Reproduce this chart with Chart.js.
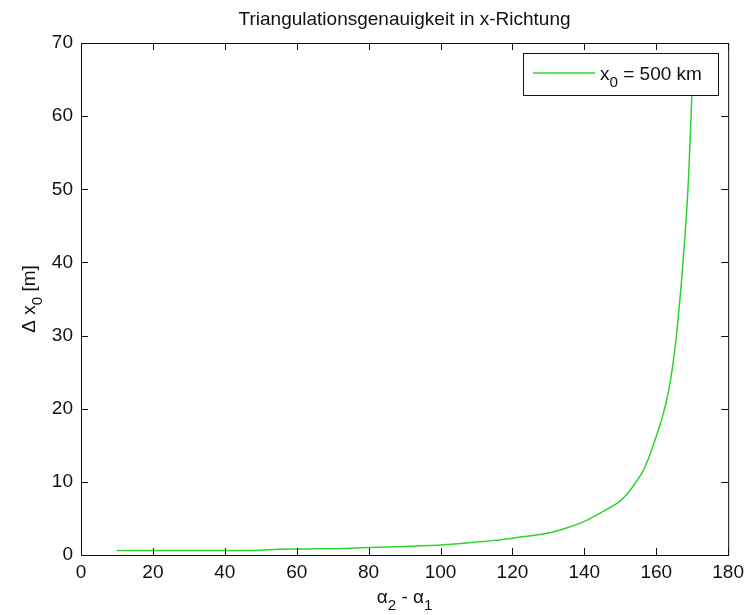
<!DOCTYPE html>
<html lang="de">
<head>
    <meta charset="UTF-8">
    <title>Triangulationsgenauigkeit in x-Richtung</title>
    <style>
        body {
            margin: 0;
            background: #fff;
        }
        .wrap {
            width: 750px;
            height: 615px;
            position: relative;
        }
    </style>
    <script src="https://cdn.jsdelivr.net/npm/chart.js"></script>
</head>
<body>
    <div class="wrap">
        <canvas id="chart"></canvas>
    </div>

    <script>
        // angle difference alpha2 - alpha1 (deg) and error delta x0 (m)
        const angles = [10, 15, 20, 25, 30, 35, 40, 45, 50, 55, 60, 65, 70, 75, 80, 85, 90, 95,
                        100, 105, 110, 115, 120, 125, 130, 135, 140, 145, 150, 152, 154, 156,
                        157, 158, 159, 160, 161, 162, 163, 164, 165, 166, 167, 168, 169, 170];
        const deltas = [0.6, 0.6, 0.6, 0.6, 0.6, 0.6, 0.6, 0.62, 0.65, 0.78, 0.82, 0.84, 0.86, 0.92,
                        1.02, 1.1, 1.17, 1.26, 1.36, 1.55, 1.78, 2.0, 2.3, 2.62, 3.0, 3.7, 4.6, 5.9,
                        7.4, 8.4, 9.7, 11.2, 12.2, 13.4, 14.8, 16.2, 17.7, 19.4, 21.4, 24.0, 27.4,
                        31.8, 37.2, 43.7, 51.7, 64];

        const xTicks = [0, 20, 40, 60, 80, 100, 120, 140, 160, 180];
        const yTicks = [0, 10, 20, 30, 40, 50, 60, 70];

        const titleText = 'Triangulationsgenauigkeit in x-Richtung';
        const legendLabel = [['x', false], ['0', true], [' = 500 km', false]];
        const xLabel = [['\u03b1', false], ['2', true], [' - \u03b1', false], ['1', true]];
        const yLabel = [['\u0394 x', false], ['0', true], [' [m]', false]];

        const FONT = '"Liberation Sans", Arial, sans-serif';
        const lineColor = 'rgb(45, 212, 45)';

        // text with subscripts, drawn left to right from x (baseline y)
        function richWidth(ctx, parts, size) {
            let w = 0;
            parts.forEach(([t, sub]) => {
                ctx.font = (sub ? size * 0.8 : size) + 'px ' + FONT;
                w += ctx.measureText(t).width;
            });
            return w;
        }
        function drawRich(ctx, parts, x, y, size) {
            parts.forEach(([t, sub]) => {
                ctx.font = (sub ? size * 0.8 : size) + 'px ' + FONT;
                ctx.fillText(t, x, sub ? y + size * 0.35 : y);
                x += ctx.measureText(t).width;
            });
        }

        const decorPlugin = {
            id: 'decor',
            afterDraw(chart) {
                const { ctx, chartArea: a, scales } = chart;
                ctx.save();
                ctx.strokeStyle = '#111';
                ctx.fillStyle = '#111';
                ctx.lineWidth = 1;

                // box
                ctx.strokeRect(a.left + 0.5, a.top + 0.5, a.right - a.left, a.bottom - a.top);

                // inward ticks on all four sides
                const tl = 7;
                ctx.beginPath();
                xTicks.forEach(v => {
                    const px = Math.round(scales.x.getPixelForValue(v)) + 0.5;
                    ctx.moveTo(px, a.bottom);
                    ctx.lineTo(px, a.bottom - tl);
                    ctx.moveTo(px, a.top);
                    ctx.lineTo(px, a.top + tl);
                });
                yTicks.forEach(v => {
                    const py = Math.round(scales.y.getPixelForValue(v)) + 0.5;
                    ctx.moveTo(a.left, py);
                    ctx.lineTo(a.left + tl, py);
                    ctx.moveTo(a.right, py);
                    ctx.lineTo(a.right - tl, py);
                });
                ctx.stroke();

                // title
                ctx.textBaseline = 'alphabetic';
                ctx.textAlign = 'left';
                ctx.font = '19px ' + FONT;
                const tw = ctx.measureText(titleText).width;
                ctx.fillText(titleText, (a.left + a.right) / 2 - tw / 2, 25);

                // x axis label
                const xw = richWidth(ctx, xLabel, 19);
                drawRich(ctx, xLabel, (a.left + a.right) / 2 - xw / 2, 603, 19);

                // y axis label (rotated)
                ctx.save();
                ctx.translate(35, (a.top + a.bottom) / 2);
                ctx.rotate(-Math.PI / 2);
                const yw = richWidth(ctx, yLabel, 19);
                drawRich(ctx, yLabel, -yw / 2, 0, 19);
                ctx.restore();

                // legend box
                const lx = 523, ly = 53, lw = 195, lh = 42;
                ctx.fillStyle = '#fff';
                ctx.fillRect(lx, ly, lw, lh);
                ctx.strokeRect(lx + 0.5, ly + 0.5, lw, lh);
                ctx.strokeStyle = lineColor;
                ctx.lineWidth = 1.5;
                ctx.beginPath();
                ctx.moveTo(533, 73);
                ctx.lineTo(595, 73);
                ctx.stroke();
                ctx.fillStyle = '#111';
                drawRich(ctx, legendLabel, 600, 80, 19);

                ctx.restore();
            }
        };

        const ctx = document.getElementById('chart').getContext('2d');
        new Chart(ctx, {
            type: 'line',
            data: {
                datasets: [{
                    label: 'x0 = 500 km',
                    data: angles.map((a, i) => ({ x: a, y: deltas[i] })),
                    borderColor: lineColor,
                    borderWidth: 1.5,
                    pointRadius: 0,
                    fill: false,
                    cubicInterpolationMode: 'monotone'
                }]
            },
            options: {
                responsive: true,
                maintainAspectRatio: false,
                animation: false,
                layout: {
                    padding: { top: 43, right: 18, bottom: 0, left: 0 }
                },
                plugins: {
                    legend: { display: false },
                    title: { display: false },
                    tooltip: { enabled: false }
                },
                scales: {
                    x: {
                        type: 'linear',
                        min: 0,
                        max: 180,
                        afterFit: s => { s.height = 60; },
                        afterBuildTicks: s => { s.ticks = xTicks.map(v => ({ value: v })); },
                        grid: { display: false, drawTicks: false },
                        border: { display: false },
                        ticks: {
                            padding: 6,
                            color: '#111',
                            maxRotation: 0,
                            font: { family: FONT, size: 19 }
                        }
                    },
                    y: {
                        type: 'linear',
                        min: 0,
                        max: 70,
                        afterFit: s => { s.width = 81; },
                        afterBuildTicks: s => { s.ticks = yTicks.map(v => ({ value: v })); },
                        grid: { display: false, drawTicks: false },
                        border: { display: false },
                        ticks: {
                            padding: 8,
                            color: '#111',
                            font: { family: FONT, size: 19 }
                        }
                    }
                }
            },
            plugins: [decorPlugin]
        });
    </script>
</body>
</html>
